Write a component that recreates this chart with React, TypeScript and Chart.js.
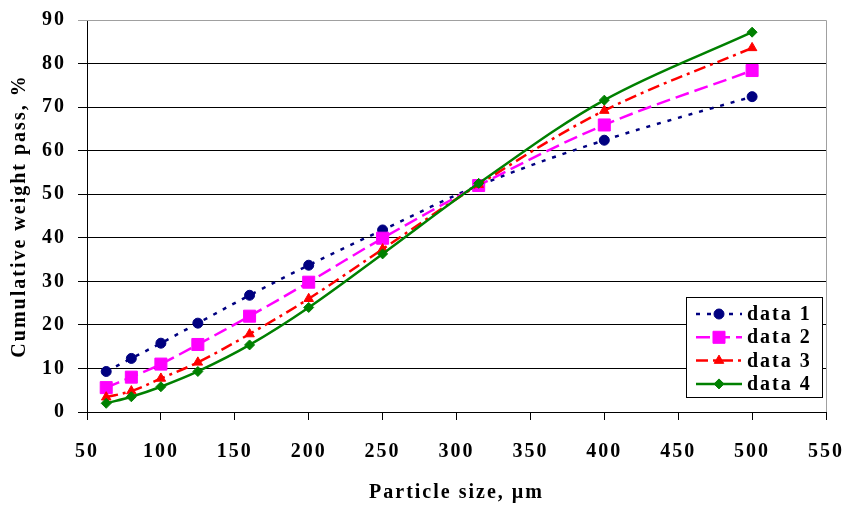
import { useEffect, useRef } from 'react';
import { Chart, registerables } from 'chart.js';

Chart.register(...registerables);

// Particle sizes (µm)
const sizes = [63, 80, 100, 125, 160, 200, 250, 315, 400, 500];
// Cumulative weight pass (%)
const data1 = [9.3, 12.3, 15.8, 20.4, 26.8, 33.7, 41.8, 52.0, 62.4, 72.4];
const data2 = [5.6, 8.0, 11.0, 15.5, 22.0, 29.8, 39.9, 52.0, 65.9, 78.4];
const data3 = [3.4, 4.8, 7.7, 11.4, 17.9, 26.0, 37.4, 52.2, 69.2, 83.6];
const data4 = [2.0, 3.5, 5.8, 9.3, 15.4, 24.0, 36.3, 52.5, 71.6, 87.2];
const seriesNames = ['data 1', 'data 2', 'data 3', 'data 4'];
const xTitle = 'Particle size, µm';
const yTitle = 'Cumulative weight pass, %';

const FONT_FAMILY = '"Liberation Serif", "Times New Roman", serif';

function drawMarker(ctx: CanvasRenderingContext2D, style: string, x: number, y: number, r: number, color: string) {
  ctx.save();
  ctx.setLineDash([]);
  ctx.fillStyle = color;
  ctx.strokeStyle = color;
  ctx.lineWidth = 1;
  ctx.beginPath();
  if (style === 'circle') {
    ctx.arc(x, y, r, 0, Math.PI * 2);
  } else if (style === 'rect') {
    const s = Math.SQRT1_2 * r;
    ctx.rect(x - s, y - s, 2 * s, 2 * s);
  } else if (style === 'triangle') {
    ctx.moveTo(x, y - r);
    ctx.lineTo(x + r * Math.cos(Math.PI / 6), y + r * 0.5);
    ctx.lineTo(x - r * Math.cos(Math.PI / 6), y + r * 0.5);
    ctx.closePath();
  } else {
    ctx.moveTo(x - r, y);
    ctx.lineTo(x, y - r);
    ctx.lineTo(x + r, y);
    ctx.lineTo(x, y + r);
    ctx.closePath();
  }
  ctx.fill();
  ctx.stroke();
  ctx.restore();
}

const spacingPlugin = {
  id: 'spacing',
  beforeDraw(chart: any) {
    (chart.ctx as any).letterSpacing = '2px';
  },
};

const frameLegendPlugin = {
  id: 'frameLegend',
  beforeDatasetsDraw(chart: any) {
    const { ctx, chartArea } = chart;
    ctx.save();
    ctx.strokeStyle = '#a0a0a0';
    ctx.lineWidth = 1;
    ctx.beginPath();
    ctx.moveTo(chartArea.left, chartArea.top + 0.5);
    ctx.lineTo(chartArea.right + 0.5, chartArea.top + 0.5);
    ctx.lineTo(chartArea.right + 0.5, chartArea.bottom);
    ctx.stroke();
    ctx.restore();
  },
  afterDraw(chart: any) {
    const { ctx, chartArea } = chart;
    const w = 137;
    const h = 101;
    const right = chartArea.right - 3;
    const bottom = chartArea.bottom - 14;
    const left = right - w;
    const top = bottom - h;
    ctx.save();
    (ctx as any).letterSpacing = '2px';
    ctx.fillStyle = '#ffffff';
    ctx.fillRect(left, top, w, h);
    ctx.strokeStyle = '#000000';
    ctx.lineWidth = 1;
    ctx.setLineDash([]);
    ctx.strokeRect(left + 0.5, top + 0.5, w - 1, h - 1);
    chart.data.datasets.forEach((ds: any, i: number) => {
      const cy = top + 17 + i * 23.3;
      const x0 = left + 10;
      const x1 = left + 56;
      ctx.save();
      ctx.strokeStyle = ds.borderColor;
      ctx.lineWidth = ds.borderWidth;
      ctx.setLineDash(ds.borderDash || []);
      ctx.beginPath();
      ctx.moveTo(x0, cy);
      ctx.lineTo(x1, cy);
      ctx.stroke();
      ctx.restore();
      drawMarker(ctx, ds.pointStyle, (x0 + x1) / 2, cy, ds.pointRadius, ds.borderColor);
      ctx.fillStyle = '#000000';
      ctx.font = `bold 20px ${FONT_FAMILY}`;
      ctx.textBaseline = 'middle';
      ctx.textAlign = 'left';
      ctx.fillText(ds.label, left + 61, cy + 1);
    });
    ctx.restore();
  },
};

export default function App() {
  const canvasRef = useRef<HTMLCanvasElement | null>(null);

  useEffect(() => {
    const canvas = canvasRef.current;
    if (!canvas) return;
    const toPoints = (vals: number[]) => sizes.map((s, i) => ({ x: s, y: vals[i] }));
    const styles = [
      { color: '#000080', dash: [4, 7], width: 2.5, point: 'circle', r: 5, order: 3 },
      { color: '#ff00ff', dash: [14, 6], width: 2.5, point: 'rect', r: 8.5, order: 2 },
      { color: '#ff0000', dash: [12, 5, 3, 5], width: 2.5, point: 'triangle', r: 5.5, order: 1 },
      { color: '#008000', dash: [], width: 2.5, point: 'rectRot', r: 5, order: 0 },
    ];
    const allData = [data1, data2, data3, data4];
    const chart = new Chart(canvas, {
      type: 'line',
      data: {
        datasets: allData.map((vals, i) => ({
          label: seriesNames[i],
          data: toPoints(vals),
          borderColor: styles[i].color,
          backgroundColor: styles[i].color,
          borderWidth: styles[i].width,
          borderDash: styles[i].dash,
          pointStyle: styles[i].point as any,
          pointRadius: styles[i].r,
          pointBorderWidth: 1,
          tension: 0.35,
          fill: false,
          order: styles[i].order,
        })),
      },
      options: {
        responsive: false,
        animation: false,
        layout: { padding: { top: 20, right: 20, left: 0, bottom: 0 } },
        plugins: {
          legend: { display: false },
          tooltip: { enabled: false },
        },
        scales: {
          x: {
            type: 'linear',
            min: 50,
            max: 550,
            afterFit: (scale: any) => {
              scale.height = 93;
              scale.paddingLeft = 0;
              scale.paddingRight = 0;
            },
            ticks: {
              stepSize: 50,
              color: '#000000',
              font: { family: FONT_FAMILY, size: 20, weight: 'bold' },
              padding: 20,
              maxRotation: 0,
            },
            grid: {
              drawOnChartArea: false,
              drawTicks: true,
              tickLength: 8,
              color: '#000000',
            },
            border: { display: true, color: '#000000', width: 1 },
            title: {
              display: true,
              text: xTitle,
              color: '#000000',
              font: { family: FONT_FAMILY, size: 20, weight: 'bold' },
              padding: { top: 0, bottom: 0 },
            },
          },
          y: {
            type: 'linear',
            min: 0,
            max: 90,
            afterFit: (scale: any) => {
              scale.width = 87;
              scale.paddingTop = 0;
              scale.paddingBottom = 0;
            },
            ticks: {
              stepSize: 10,
              color: '#000000',
              font: { family: FONT_FAMILY, size: 20, weight: 'bold' },
              padding: 12,
            },
            grid: {
              drawOnChartArea: true,
              drawTicks: true,
              tickLength: 9,
              color: (ctx: any) => (ctx.tick && ctx.tick.value === 90 ? '#a0a0a0' : '#000000'),
            },
            border: { display: true, color: '#000000', width: 1 },
            title: {
              display: true,
              text: yTitle,
              color: '#000000',
              font: { family: FONT_FAMILY, size: 20, weight: 'bold' },
              padding: { top: 8, bottom: 0 },
            },
          },
        },
      },
      plugins: [spacingPlugin, frameLegendPlugin],
    });
    return () => chart.destroy();
  }, []);

  return (
    <div style={{ position: 'absolute', left: 0, top: 0, width: 846, height: 505, background: '#ffffff' }}>
      <canvas ref={canvasRef} width={846} height={505} />
    </div>
  );
}
